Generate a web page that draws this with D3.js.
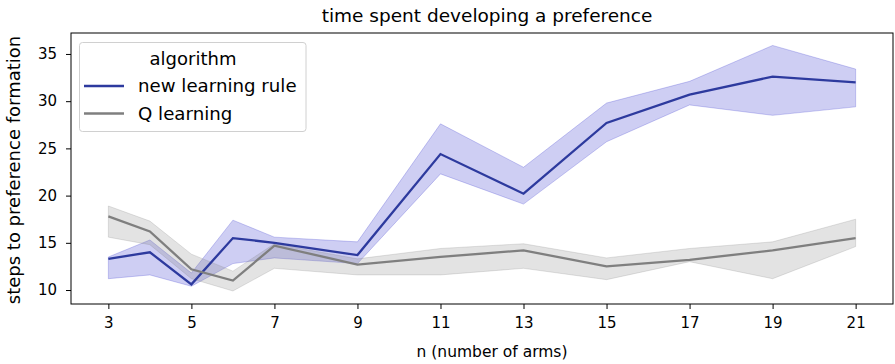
<!DOCTYPE html>
<html>
<head>
<meta charset="utf-8">
<script src="https://cdn.jsdelivr.net/npm/d3@7"></script>
<style>
  body { margin: 0; background: #fff; }
  text { font-family: "DejaVu Sans", sans-serif; fill: #000; }
</style>
</head>
<body>
<svg id="plot" width="895" height="364"></svg>
<script>
// number of arms
var arms = [3, 4, 5, 6, 7, 9, 11, 13, 15, 17, 19, 21];

// new learning rule: mean and band
var newMean = [13.3, 14.0, 10.6, 15.5, 15.0, 13.7, 24.4, 20.2, 27.7, 30.7, 32.6, 32.0];
var newLo   = [11.2, 11.6, 10.4, 12.8, 13.4, 12.8, 22.3, 19.1, 25.7, 29.6, 28.5, 29.4];
var newHi   = [13.5, 15.3, 11.8, 17.4, 15.6, 15.1, 27.6, 23.0, 29.8, 32.1, 35.9, 33.4];

// Q learning: mean and band
var qMean = [17.8, 16.2, 12.2, 11.0, 14.7, 12.7, 13.5, 14.2, 12.5, 13.2, 14.2, 15.5];
var qLo   = [15.6, 14.8, 11.2, 9.9, 12.3, 11.6, 11.6, 12.3, 11.1, 13.0, 11.2, 14.6];
var qHi   = [18.9, 17.3, 13.8, 12.0, 14.9, 13.3, 14.4, 14.9, 13.4, 14.4, 15.1, 17.5];

var xTicks = [3, 5, 7, 9, 11, 13, 15, 17, 19, 21];
var yTicks = [10, 15, 20, 25, 30, 35];

// plot box
var pLeft = 71, pRight = 893, pTop = 33, pBottom = 304;

var svg = d3.select("#plot");

var xScale = d3.scaleLinear().domain([2.1, 21.9]).range([pLeft, pRight]);
var yScale = d3.scaleLinear().domain([8.52, 37.22]).range([pBottom, pTop]);

function band(lo, hi) {
  return d3.area()
    .x(function(d, i) { return xScale(arms[i]); })
    .y0(function(d, i) { return yScale(lo[i]); })
    .y1(function(d, i) { return yScale(hi[i]); })(arms);
}
function line(vals) {
  return d3.line()
    .x(function(d, i) { return xScale(arms[i]); })
    .y(function(d, i) { return yScale(vals[i]); })(arms);
}

var series = [
  { name: "new learning rule", color: "#2d3a9e", fill: "#1e1ec8", mean: newMean, lo: newLo, hi: newHi },
  { name: "Q learning", color: "#7f7f7f", fill: "#808080", mean: qMean, lo: qLo, hi: qHi }
];

// bands
series.forEach(function(s) {
  svg.append("path")
    .attr("d", band(s.lo, s.hi))
    .attr("fill", s.fill)
    .attr("fill-opacity", 0.22)
    .attr("stroke", s.fill)
    .attr("stroke-opacity", 0.22)
    .attr("stroke-width", 1);
});
// lines
series.forEach(function(s) {
  svg.append("path")
    .attr("d", line(s.mean))
    .attr("fill", "none")
    .attr("stroke", s.color)
    .attr("stroke-width", 2.3);
});

// axes
var xAxis = d3.axisBottom(xScale).tickValues(xTicks).tickSize(5).tickPadding(8);
var yAxis = d3.axisLeft(yScale).tickValues(yTicks).tickSize(5).tickPadding(9);

var gx = svg.append("g").attr("transform", "translate(0," + pBottom + ")").call(xAxis);
var gy = svg.append("g").attr("transform", "translate(" + pLeft + ",0)").call(yAxis);
[gx, gy].forEach(function(g) {
  g.select(".domain").remove();
  g.selectAll("text").attr("font-size", "15px").attr("font-family", "DejaVu Sans, sans-serif").attr("fill", "#000");
  g.selectAll("line").attr("stroke", "#000");
});

// frame
svg.append("rect")
  .attr("x", pLeft).attr("y", pTop)
  .attr("width", pRight - pLeft).attr("height", pBottom - pTop)
  .attr("fill", "none").attr("stroke", "#000").attr("stroke-width", 1);

// titles
svg.append("text")
  .attr("x", 487).attr("y", 22)
  .attr("text-anchor", "middle").attr("font-size", "18.5px")
  .text("time spent developing a preference");

svg.append("text")
  .attr("x", 492).attr("y", 357)
  .attr("text-anchor", "middle").attr("font-size", "15.5px")
  .text("n (number of arms)");

svg.append("text")
  .attr("transform", "translate(20," + 170 + ") rotate(-90)")
  .attr("text-anchor", "middle").attr("font-size", "18px")
  .text("steps to preference formation");

// legend
var lg = svg.append("g");
lg.append("rect")
  .attr("x", 79.5).attr("y", 42.5).attr("width", 226.5).attr("height", 89)
  .attr("rx", 3)
  .attr("fill", "#fff").attr("fill-opacity", 0.8)
  .attr("stroke", "#d0d0d0");
lg.append("text")
  .attr("x", 193).attr("y", 64.5)
  .attr("text-anchor", "middle").attr("font-size", "18px")
  .text("algorithm");
series.forEach(function(s, i) {
  var yy = 86 + i * 27.5;
  lg.append("line")
    .attr("x1", 84).attr("x2", 124).attr("y1", yy).attr("y2", yy)
    .attr("stroke", s.color).attr("stroke-width", 2.3);
  lg.append("text")
    .attr("x", 138).attr("y", yy + 6)
    .attr("font-size", "18.2px")
    .text(s.name);
});
</script>
</body>
</html>
